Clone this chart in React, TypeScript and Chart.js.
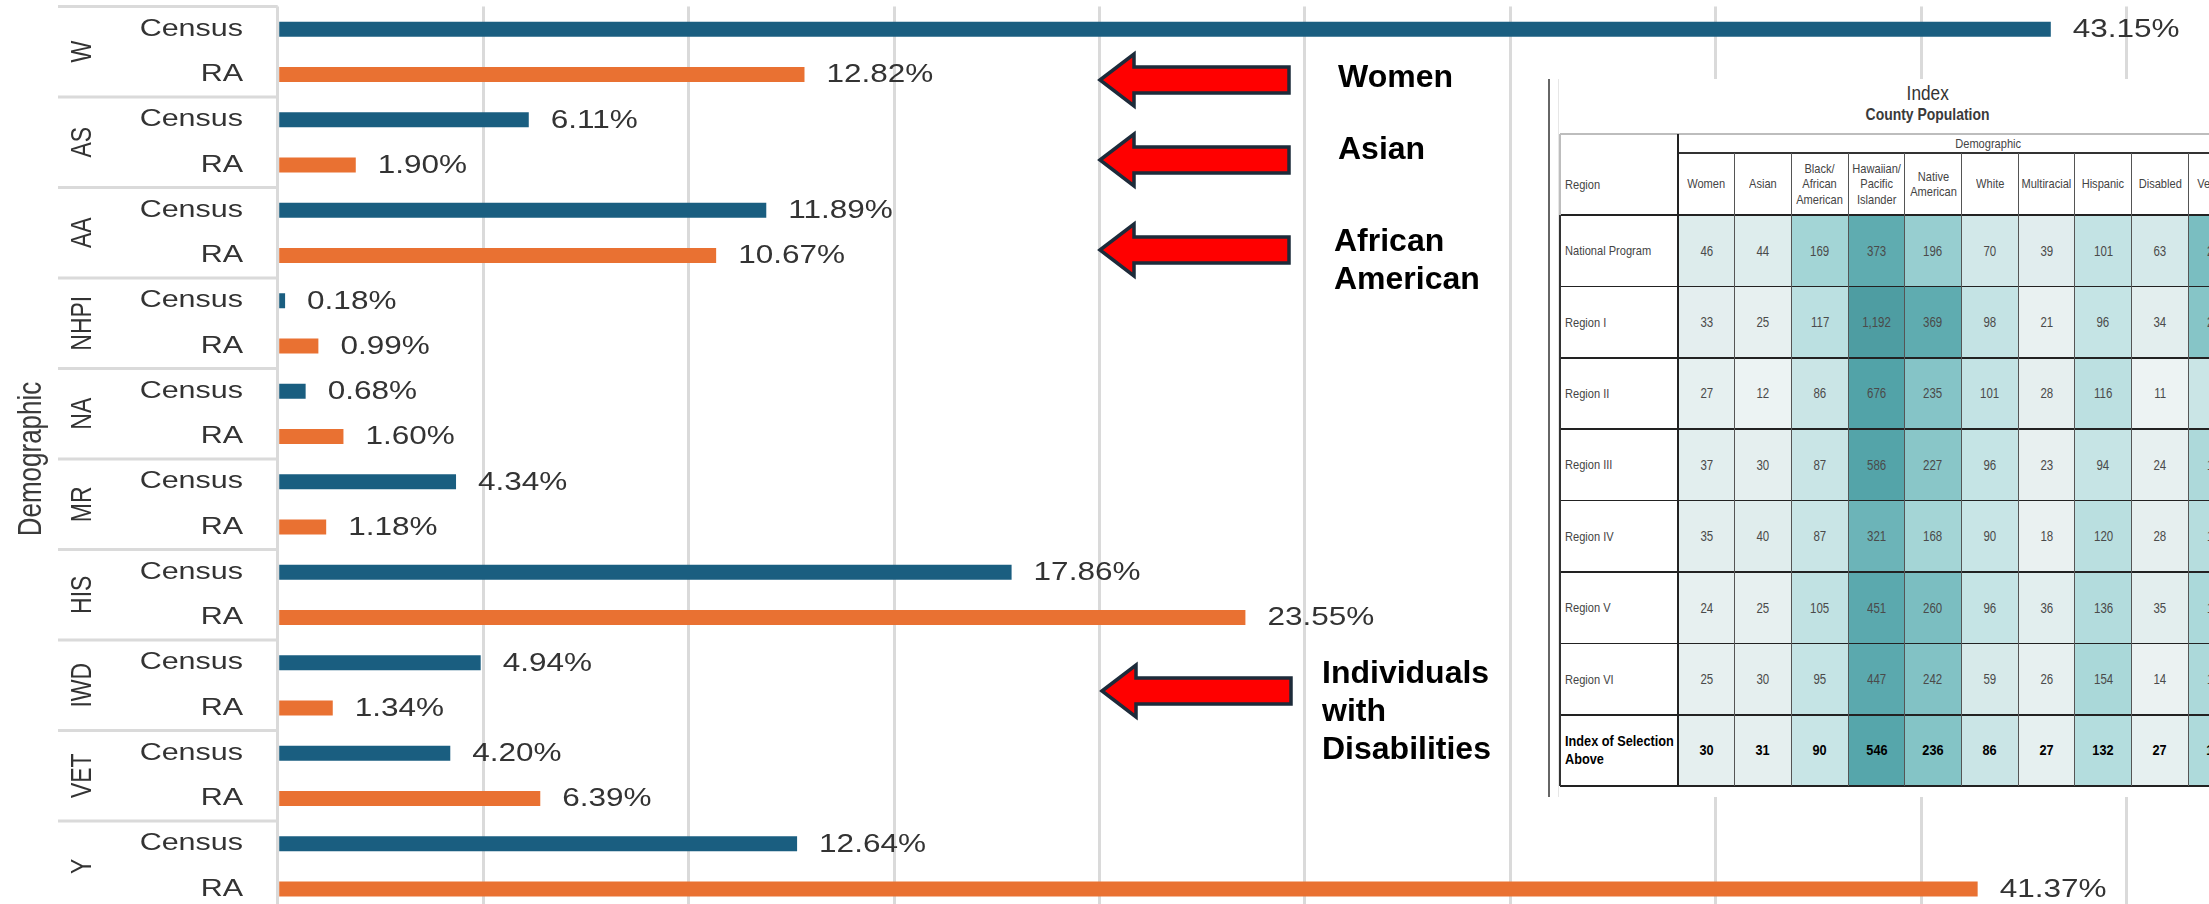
import React, { useEffect, useRef } from "react";
import { Chart, registerables } from "chart.js";

Chart.register(...registerables);

// ---------------- data ----------------
const groups = ["W", "AS", "AA", "NHPI", "NA", "MR", "HIS", "IWD", "VET", "Y"];
const seriesNames = ["Census", "RA"];
const censusValues = [43.15, 6.11, 11.89, 0.18, 0.68, 4.34, 17.86, 4.94, 4.2, 12.64];
const raValues = [12.82, 1.9, 10.67, 0.99, 1.6, 1.18, 23.55, 1.34, 6.39, 41.37];
const xStep = 5;
const xMax = 47;
const axisTitle = "Demographic";

const annotationTexts = [["Women"], ["Asian"], ["African", "American"], ["Individuals", "with", "Disabilities"]];

const tableTitle = "Index";
const tableSubtitle = "County Population";
const tableGroupHeader = "Demographic";
const tableRegionHeader = "Region";
const tableColumns = [
  "Women",
  "Asian",
  "Black/\nAfrican\nAmerican",
  "Hawaiian/\nPacific\nIslander",
  "Native\nAmerican",
  "White",
  "Multiracial",
  "Hispanic",
  "Disabled",
  "Veteran",
];
const tableRowNames = [
  "National Program",
  "Region I",
  "Region II",
  "Region III",
  "Region IV",
  "Region V",
  "Region VI",
  "Index of Selection\nAbove",
];
const rowNational = [46, 44, 169, 373, 196, 70, 39, 101, 63, 265];
const rowRegion1 = [33, 25, 117, 1192, 369, 98, 21, 96, 34, 232];
const rowRegion2 = [27, 12, 86, 676, 235, 101, 28, 116, 11, 86];
const rowRegion3 = [37, 30, 87, 586, 227, 96, 23, 94, 24, 148];
const rowRegion4 = [35, 40, 87, 321, 168, 90, 18, 120, 28, 128];
const rowRegion5 = [24, 25, 105, 451, 260, 96, 36, 136, 35, 152];
const rowRegion6 = [25, 30, 95, 447, 242, 59, 26, 154, 14, 150];
const rowIndexSel = [30, 31, 90, 546, 236, 86, 27, 132, 27, 145];
const tableValues = [rowNational, rowRegion1, rowRegion2, rowRegion3, rowRegion4, rowRegion5, rowRegion6, rowIndexSel];

// ---------------- styles / layout ----------------
const W = 2209;
const H = 904;
const CANVAS_H = 912;
const CENSUS_COLOR = "#1a5e80";
const RA_COLOR = "#e97132";
const GRID = "#dadada";
const TEXT = "#333333";
const FONT = '"Liberation Sans", Arial, sans-serif';
const TFONT = '"Liberation Sans", Arial, sans-serif';
const SQUEEZE = 0.82;

const arrowLayout = [
  { tipX: 1100, y: 80, tailX: 1289 },
  { tipX: 1100, y: 160, tailX: 1289 },
  { tipX: 1100, y: 250, tailX: 1289 },
  { tipX: 1102, y: 691, tailX: 1291 },
];
const annotationLayout = [
  { x: 1338, y: 78 },
  { x: 1338, y: 150 },
  { x: 1334, y: 242 },
  { x: 1322, y: 674 },
];
const annotationLineH = 38;

// table geometry (page coords)
const PANEL = { left: 1548, top: 79, right: W, bottom: 797 };
const TX0 = 1560;
const TX1 = 1678;
const COLW = 56.7;
const TY0 = 134;
const TY1 = 153;
const TY2 = 215;
const ROWH = 71.4;

const heatStops: [number, number[]][] = [
  [0, [241, 245, 245]],
  [30, [229, 239, 239]],
  [100, [195, 227, 228]],
  [170, [163, 213, 214]],
  [250, [126, 192, 195]],
  [370, [95, 172, 176]],
  [600, [83, 164, 169]],
  [1200, [78, 157, 162]],
];
function heatColor(v: number) {
  for (let i = 1; i < heatStops.length; i++) {
    const [v0, c0] = heatStops[i - 1];
    const [v1, c1] = heatStops[i];
    if (v <= v1) {
      const t = Math.max(0, (v - v0) / (v1 - v0));
      const c = c0.map((a, k) => Math.round(a + (c1[k] - a) * t));
      return `rgb(${c[0]},${c[1]},${c[2]})`;
    }
  }
  const c = heatStops[heatStops.length - 1][1];
  return `rgb(${c[0]},${c[1]},${c[2]})`;
}

function drawText(
  ctx: CanvasRenderingContext2D,
  text: string,
  x: number,
  y: number,
  font: string,
  color: string,
  align: CanvasTextAlign,
  sx: number,
  rotate: boolean
) {
  ctx.save();
  ctx.translate(x, y);
  ctx.scale(sx, 1);
  if (rotate) ctx.rotate(-Math.PI / 2);
  ctx.font = font;
  ctx.fillStyle = color;
  ctx.textAlign = align;
  ctx.textBaseline = "middle";
  ctx.fillText(text, 0, 0);
  ctx.restore();
}

function drawArrow(ctx: CanvasRenderingContext2D, tipX: number, y: number, tailX: number) {
  const headLen = 34;
  const headHalf = 26;
  const shaftHalf = 13;
  ctx.save();
  ctx.beginPath();
  ctx.moveTo(tipX, y);
  ctx.lineTo(tipX + headLen, y - headHalf);
  ctx.lineTo(tipX + headLen, y - shaftHalf);
  ctx.lineTo(tailX, y - shaftHalf);
  ctx.lineTo(tailX, y + shaftHalf);
  ctx.lineTo(tipX + headLen, y + shaftHalf);
  ctx.lineTo(tipX + headLen, y + headHalf);
  ctx.closePath();
  ctx.fillStyle = "#ff0000";
  ctx.fill();
  ctx.lineJoin = "miter";
  ctx.lineWidth = 3.5;
  ctx.strokeStyle = "#1d2b3a";
  ctx.stroke();
  ctx.restore();
}

const overlayPlugin = {
  id: "overlay",
  afterDatasetsDraw(chart: any) {
    const ctx: CanvasRenderingContext2D = chart.ctx;
    const area = chart.chartArea;
    const yScale = chart.scales.y;
    const band = (area.bottom - area.top) / groups.length;

    ctx.save();
    ctx.strokeStyle = GRID;
    ctx.lineWidth = 3;
    for (let i = 0; i <= groups.length; i++) {
      const y = area.top + i * band;
      ctx.beginPath();
      ctx.moveTo(58, y);
      ctx.lineTo(area.left, y);
      ctx.stroke();
    }
    ctx.restore();

    groups.forEach((g, i) => {
      const yc = yScale.getPixelForValue(i);
      drawText(ctx, g, 83, yc, `23px ${FONT}`, TEXT, "center", 1.3, true);
    });

    chart.data.datasets.forEach((ds: any, di: number) => {
      const meta = chart.getDatasetMeta(di);
      meta.data.forEach((bar: any, i: number) => {
        drawText(ctx, seriesNames[di], 243, bar.y, `24px ${FONT}`, TEXT, "right", 1.27, false);
        const v = ds.data[i] as number;
        drawText(ctx, v.toFixed(2) + "%", bar.x + 22, bar.y + 1, `25px ${FONT}`, TEXT, "left", 1.26, false);
      });
    });

    drawText(ctx, axisTitle, 32, (area.top + area.bottom) / 2, `26px ${FONT}`, "#3a3a3a", "center", 1.3, true);

    arrowLayout.forEach((a) => drawArrow(ctx, a.tipX, a.y, a.tailX));
    annotationTexts.forEach((lines, i) => {
      const p = annotationLayout[i];
      lines.forEach((ln, k) => {
        drawText(ctx, ln, p.x, p.y + k * annotationLineH, `bold 32px ${FONT}`, "#000", "left", 1, false);
      });
    });
  },
};

function Sq({ children, origin = "center" }: { children: React.ReactNode; origin?: string }) {
  return (
    <span style={{ display: "inline-block", transform: `scaleX(${SQUEEZE})`, transformOrigin: origin, whiteSpace: "pre" }}>
      {children}
    </span>
  );
}

function IndexTable() {
  const els: React.ReactNode[] = [];
  const nCols = tableColumns.length;
  const nRows = tableRowNames.length;
  const bottom = TY2 + nRows * ROWH;

  tableValues.forEach((row, r) => {
    row.forEach((v, c) => {
      const bold = r === nRows - 1;
      els.push(
        <div
          key={`c${r}-${c}`}
          style={{
            position: "absolute",
            left: TX1 + c * COLW,
            top: TY2 + r * ROWH,
            width: COLW,
            height: ROWH,
            background: heatColor(v),
            display: "flex",
            alignItems: "center",
            justifyContent: "center",
            font: `${bold ? "bold 15.5px" : "14px"} ${TFONT}`,
            color: bold ? "#000" : "#4a4a4a",
          }}
        >
          <Sq>{v.toLocaleString("en-US")}</Sq>
        </div>
      );
    });
  });
  tableColumns.forEach((name, c) => {
    els.push(
      <div
        key={`h${c}`}
        style={{
          position: "absolute",
          left: TX1 + c * COLW,
          top: TY1,
          width: COLW,
          height: TY2 - TY1,
          display: "flex",
          alignItems: "center",
          justifyContent: "center",
          textAlign: "center",
          font: `13.5px/15.5px ${TFONT}`,
          color: "#444",
        }}
      >
        <Sq>{name}</Sq>
      </div>
    );
  });
  tableRowNames.forEach((name, r) => {
    const bold = r === nRows - 1;
    els.push(
      <div
        key={`r${r}`}
        style={{
          position: "absolute",
          left: TX0 + 5,
          top: TY2 + r * ROWH,
          width: TX1 - TX0 - 6,
          height: ROWH,
          display: "flex",
          alignItems: "center",
          font: `${bold ? "bold 15.5px/18px" : "13.5px/15px"} ${TFONT}`,
          color: bold ? "#000" : "#444",
        }}
      >
        <Sq origin="left center">{name}</Sq>
      </div>
    );
  });
  els.push(
    <div
      key="rh"
      style={{
        position: "absolute",
        left: TX0 + 5,
        top: TY1,
        height: TY2 - TY1,
        display: "flex",
        alignItems: "center",
        font: `13.5px ${TFONT}`,
        color: "#444",
      }}
    >
      <Sq origin="left center">{tableRegionHeader}</Sq>
    </div>
  );
  els.push(
    <div
      key="dh"
      style={{
        position: "absolute",
        left: TX1,
        top: TY0,
        width: 2298 - TX1,
        height: TY1 - TY0,
        display: "flex",
        alignItems: "center",
        justifyContent: "center",
        font: `13.5px ${TFONT}`,
        color: "#444",
      }}
    >
      <Sq>{tableGroupHeader}</Sq>
    </div>
  );
  const hline = (key: string, y: number, x0: number, color: string, w: number) =>
    els.push(
      <div key={key} style={{ position: "absolute", left: x0, top: y - w / 2, width: 2400 - x0, height: w, background: color }} />
    );
  const vline = (key: string, x: number, y0: number, y1: number, color: string, w: number) =>
    els.push(
      <div key={key} style={{ position: "absolute", left: x - w / 2, top: y0, width: w, height: y1 - y0, background: color }} />
    );
  hline("l0", TY0, TX0, "#bdbdbd", 1.5);
  hline("l1", TY1, TX1, "#333", 1.5);
  for (let r = 0; r <= nRows; r++) hline(`lr${r}`, TY2 + r * ROWH, TX0, "#222", r === 0 || r === nRows ? 2 : 1.5);
  vline("v0a", TX0, TY0, TY2, "#bdbdbd", 1.5);
  vline("v0b", TX0, TY2, bottom, "#333", 1.5);
  vline("v1", TX1, TY0, bottom, "#222", 2);
  for (let c = 1; c <= nCols; c++) vline(`vc${c}`, TX1 + c * COLW, TY1, bottom, "#555", 1);

  return (
    <div style={{ position: "absolute", left: 0, top: 0, width: W, height: H, overflow: "hidden", pointerEvents: "none" }}>
      <div
        style={{
          position: "absolute",
          left: PANEL.left,
          top: PANEL.top,
          width: PANEL.right - PANEL.left,
          height: PANEL.bottom - PANEL.top,
          background: "#fff",
          borderLeft: "2px solid #666",
          boxSizing: "border-box",
        }}
      />
      <div style={{ position: "absolute", left: 1558, top: PANEL.top, width: 1, height: PANEL.bottom - PANEL.top, background: "#e6e6e6" }} />
      <div style={{ position: "absolute", left: 1828, width: 200, top: 81, textAlign: "center", font: `21px ${TFONT}`, color: "#333" }}>
        <Sq>{tableTitle}</Sq>
      </div>
      <div style={{ position: "absolute", left: 1828, width: 200, top: 105, textAlign: "center", font: `bold 17px ${TFONT}`, color: "#3a3a3a" }}>
        <Sq>{tableSubtitle}</Sq>
      </div>
      {els}
    </div>
  );
}

export default function App() {
  const ref = useRef<HTMLCanvasElement | null>(null);
  useEffect(() => {
    if (!ref.current) return;
    const band = (CANVAS_H - 7) / groups.length;
    const barPct = 15 / (band / 2);
    const chart = new Chart(ref.current, {
      type: "bar",
      data: {
        labels: groups,
        datasets: [
          {
            label: seriesNames[0],
            data: censusValues,
            backgroundColor: CENSUS_COLOR,
            categoryPercentage: 1,
            barPercentage: barPct,
          },
          {
            label: seriesNames[1],
            data: raValues,
            backgroundColor: RA_COLOR,
            categoryPercentage: 1,
            barPercentage: barPct,
          },
        ],
      },
      options: {
        indexAxis: "y",
        responsive: false,
        animation: false,
        devicePixelRatio: 1,
        layout: { padding: { left: 277.7, top: 6.5, right: 0, bottom: 0.5 } },
        plugins: { legend: { display: false }, tooltip: { enabled: false } },
        scales: {
          x: {
            min: 0,
            max: xMax,
            ticks: { stepSize: xStep, display: false, includeBounds: false },
            grid: { color: GRID, lineWidth: 3, drawTicks: false },
            border: { display: false },
          },
          y: { display: false },
        },
      },
      plugins: [overlayPlugin],
    } as any);
    return () => chart.destroy();
  }, []);

  return (
    <div style={{ position: "fixed", left: 0, top: 0, width: W, height: H, overflow: "hidden", background: "#fff" }}>
      <canvas ref={ref} width={W} height={CANVAS_H} style={{ position: "absolute", left: 0, top: 0, width: W, height: CANVAS_H }} />
      <IndexTable />
    </div>
  );
}
